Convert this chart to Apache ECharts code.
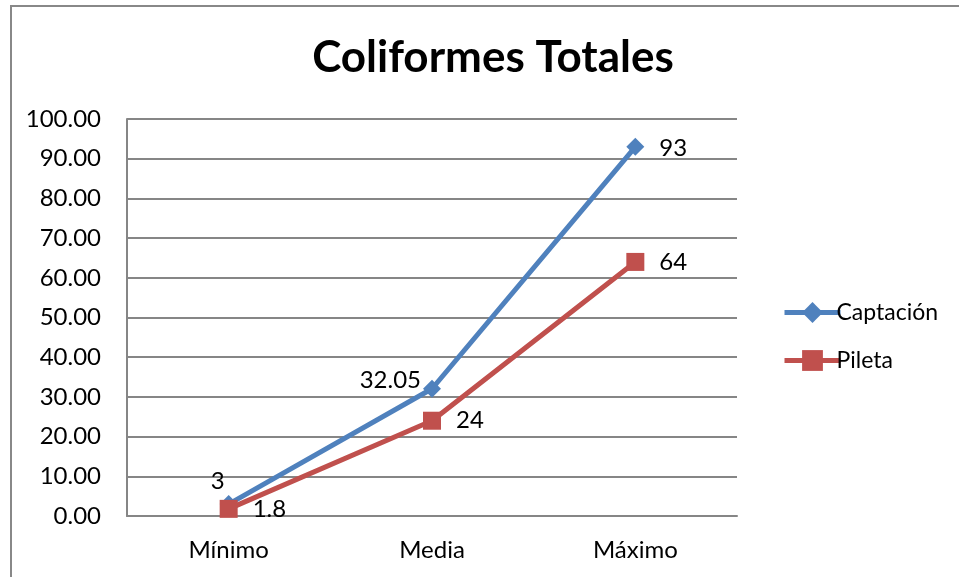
<!DOCTYPE html>
<html>
<head>
<meta charset="utf-8">
<script src="https://cdn.jsdelivr.net/npm/echarts@6/dist/echarts.min.js"></script>
<style>
  html, body { margin: 0; padding: 0; background: #fff; }
  #chart { width: 959px; height: 577px; }
</style>
</head>
<body>
<div id="chart"></div>
<script>
// Summary statistics of total coliforms per sampling point
const categories = ['Mínimo', 'Media', 'Máximo'];
const captacion = [3, 32.05, 93];
const pileta = [1.8, 24, 64];
const FONT = 'Lato, "Open Sans", sans-serif';

// Per-point placement of the Captación value labels
const captacionLabels = [
  { position: 'top', offset: [-11, 10] },
  { position: 'left', offset: [10, -8] },
  { position: 'right', offset: [3, 1] }
];

const chart = echarts.init(document.getElementById('chart'));

chart.setOption({
  animation: false,
  backgroundColor: '#fff',
  title: {
    text: 'Coliformes Totales',
    left: 488,
    textAlign: 'center',
    top: 31,
    textStyle: { fontFamily: FONT, fontWeight: 'bold', fontSize: 44, color: '#000' }
  },
  legend: {
    orient: 'vertical',
    left: 777,
    top: 296,
    itemWidth: 56,
    itemHeight: 26,
    itemGap: 25,
    lineStyle: { width: 5 },
    textStyle: { fontFamily: FONT, fontSize: 23, color: '#000', padding: [0, 0, 0, -9] },
    data: ['Captación', 'Pileta']
  },
  grid: { left: 127, top: 119, right: 222, bottom: 61 },
  xAxis: {
    type: 'category',
    data: categories,
    boundaryGap: true,
    axisLine: { lineStyle: { color: '#868686', width: 2 } },
    axisTick: { show: false },
    axisLabel: { fontFamily: FONT, fontSize: 24, color: '#000', margin: 22 }
  },
  yAxis: {
    type: 'value',
    min: 0,
    max: 100,
    interval: 10,
    axisLine: { show: true, lineStyle: { color: '#868686', width: 2 } },
    axisTick: { show: false },
    splitLine: { lineStyle: { color: '#868686', width: 2 } },
    axisLabel: {
      fontFamily: FONT, fontSize: 24, color: '#000', margin: 26,
      formatter: v => v.toFixed(2)
    }
  },
  series: [
    {
      name: 'Captación',
      type: 'line',
      data: captacion.map((v, i) => ({ value: v, label: captacionLabels[i] })),
      symbol: 'diamond',
      symbolSize: 18,
      lineStyle: { color: '#4F81BD', width: 5 },
      itemStyle: { color: '#4F81BD' },
      label: {
        show: true,
        fontFamily: FONT, fontSize: 24, color: '#000',
        distance: 12,
        formatter: p => String(p.value)
      },
      z: 3
    },
    {
      name: 'Pileta',
      type: 'line',
      data: pileta,
      symbol: 'rect',
      symbolSize: 18,
      lineStyle: { color: '#C0504D', width: 5 },
      itemStyle: { color: '#C0504D' },
      label: {
        show: true,
        position: 'right',
        fontFamily: FONT, fontSize: 24, color: '#000',
        distance: 15,
        formatter: p => String(p.value)
      },
      z: 4
    }
  ],
  graphic: [
    {
      type: 'rect',
      shape: { x: 11, y: 6, width: 1000, height: 700 },
      style: { fill: null, stroke: '#888888', lineWidth: 2 },
      silent: true
    }
  ]
});
</script>
</body>
</html>
